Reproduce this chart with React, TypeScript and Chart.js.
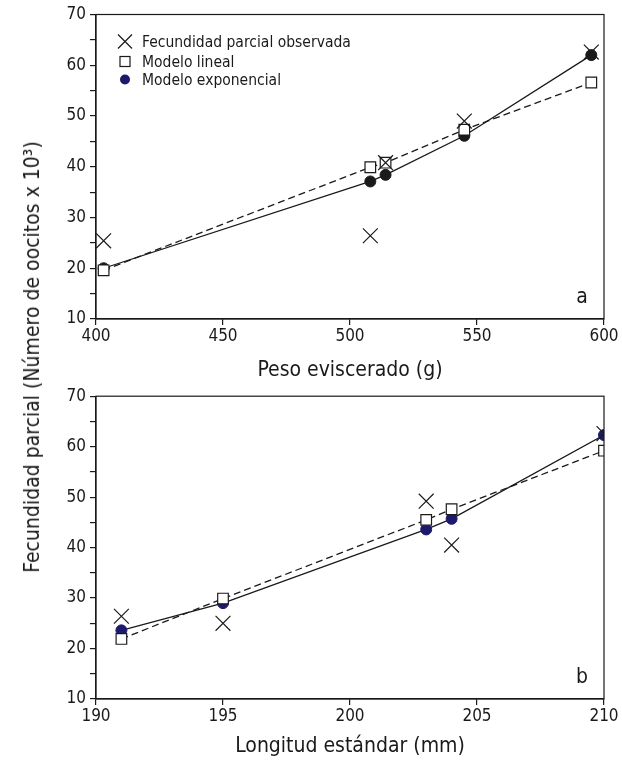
import React, { useEffect, useRef } from 'react';
import { Chart, registerables } from 'chart.js';

Chart.register(...registerables);

const FONT = "'Liberation Sans Narrow', 'Arial Narrow', 'DejaVu Sans Condensed', sans-serif";

const SERIES_LABELS = ['Fecundidad parcial observada', 'Modelo lineal', 'Modelo exponencial'];
const Y_TITLE = 'Fecundidad parcial (Número de oocitos x 10³)';

// Panel a: peso eviscerado
const A_TITLE = 'Peso eviscerado (g)';
const A_LETTER = 'a';
const A_PESO = [403, 508, 514, 545, 595];
const A_OBS = [25.4, 26.4, 40.8, 49.0, 62.6];
const A_LIN = [19.6, 39.9, 40.8, 47.3, 56.6];
const A_EXP = [20.0, 37.1, 38.4, 46.1, 62.0];
const A_XRANGE = [400, 600, 50];

// Panel b: longitud estándar
const B_TITLE = 'Longitud estándar (mm)';
const B_LETTER = 'b';
const B_LONG = [191, 195, 203, 204, 210];
const B_OBS = [26.4, 25.0, 49.2, 40.5, 62.6];
const B_LIN = [21.9, 29.9, 45.5, 47.6, 59.2];
const B_EXP = [23.6, 29.0, 43.6, 45.7, 62.3];
const B_XRANGE = [190, 210, 5];

const Y_RANGE = [10, 70, 5];

const INK = '#1a1a1a';
const NAVY = '#1d1a6c';

function pts(xs: number[], ys: number[]) {
  return xs.map((x, i) => ({ x, y: ys[i] }));
}

const framePlugin = {
  id: 'frame',
  afterDraw(chart: any, _args: any, opts: any) {
    const { ctx, chartArea } = chart;
    ctx.save();
    ctx.strokeStyle = INK;
    ctx.lineWidth = 1.2;
    ctx.strokeRect(chartArea.left, chartArea.top, chartArea.right - chartArea.left, chartArea.bottom - chartArea.top);
    // panel letter
    ctx.fillStyle = INK;
    ctx.font = `21px ${FONT}`;
    ctx.textAlign = 'center';
    ctx.textBaseline = 'middle';
    ctx.fillText(opts.letter, chartArea.right - 22, chartArea.bottom - 21);
    if (opts.legend) {
      const mx = chartArea.left + 29;
      const tx = chartArea.left + 46;
      const rows = [chartArea.top + 27, chartArea.top + 47, chartArea.top + 65];
      ctx.font = `15.5px ${FONT}`;
      ctx.textAlign = 'left';
      ctx.lineWidth = 1.2;
      // X
      ctx.beginPath();
      ctx.moveTo(mx - 7, rows[0] - 7);
      ctx.lineTo(mx + 7, rows[0] + 7);
      ctx.moveTo(mx + 7, rows[0] - 7);
      ctx.lineTo(mx - 7, rows[0] + 7);
      ctx.stroke();
      // square
      ctx.fillStyle = '#fff';
      ctx.fillRect(mx - 5, rows[1] - 5, 10, 10);
      ctx.strokeRect(mx - 5, rows[1] - 5, 10, 10);
      // circle
      ctx.fillStyle = NAVY;
      ctx.beginPath();
      ctx.arc(mx, rows[2], 5, 0, Math.PI * 2);
      ctx.fill();
      ctx.fillStyle = INK;
      SERIES_LABELS.forEach((t, i) => ctx.fillText(t, tx, rows[i] + 1));
    }
    ctx.restore();
  },
};

function makeConfig(
  xs: number[], obs: number[], lin: number[], exp: number[], expColor: string,
  xr: number[], xtitle: string, letter: string, legend: boolean,
  padTop: number, xAxisH: number, titlePad: number
): any {
  const grid = { display: true, drawOnChartArea: false, drawTicks: true, tickLength: 6, color: INK, lineWidth: 1.2 };
  const border = { display: true, color: INK, width: 1.2 };
  return {
    type: 'scatter',
    data: {
      datasets: [
        {
          label: SERIES_LABELS[0], data: pts(xs, obs), showLine: false,
          pointStyle: 'crossRot', pointRadius: 10.5, pointBorderColor: INK, pointBorderWidth: 1.2,
          pointBackgroundColor: INK, order: 0,
        },
        {
          label: SERIES_LABELS[1], data: pts(xs, lin), showLine: true, tension: 0,
          borderColor: INK, borderWidth: 1.3, borderDash: [7, 4],
          pointStyle: 'rect', pointRadius: 7.5, pointBackgroundColor: '#fff', pointBorderColor: INK,
          pointBorderWidth: 1.2, order: 1,
        },
        {
          label: SERIES_LABELS[2], data: pts(xs, exp), showLine: true, tension: 0,
          borderColor: INK, borderWidth: 1.3,
          pointStyle: 'circle', pointRadius: 5.5, pointBackgroundColor: expColor, pointBorderColor: expColor,
          pointBorderWidth: 1, order: 2,
        },
      ],
    },
    options: {
      responsive: false,
      animation: false,
      devicePixelRatio: 1,
      layout: { padding: { top: padTop, right: 18, left: 0, bottom: 0 } },
      plugins: {
        legend: { display: false },
        tooltip: { enabled: false },
        frame: { letter, legend },
      },
      scales: {
        x: {
          type: 'linear', min: xr[0], max: xr[1],
          ticks: { stepSize: xr[2], color: INK, font: { family: FONT, size: 17 }, padding: 1, maxRotation: 0, autoSkip: false },
          grid, border,
          title: { display: true, text: xtitle, color: INK, font: { family: FONT, size: 21 }, padding: { top: 0, bottom: titlePad } },
          afterFit: (s: any) => { s.height = xAxisH; },
        },
        y: {
          type: 'linear', min: Y_RANGE[0], max: Y_RANGE[1],
          ticks: {
            stepSize: Y_RANGE[2], color: INK, font: { family: FONT, size: 17 }, padding: 4, autoSkip: false,
            callback: (v: number) => (v % 10 === 0 ? String(v) : ''),
          },
          grid, border,
          afterFit: (s: any) => { s.width = 96; },
        },
      },
    },
    plugins: [framePlugin],
  };
}

function Panel({ config, top, height }: { config: any; top: number; height: number }) {
  const ref = useRef<HTMLCanvasElement>(null);
  useEffect(() => {
    const chart = new Chart(ref.current as HTMLCanvasElement, config);
    return () => chart.destroy();
  }, []);
  return (
    <canvas
      ref={ref}
      width={622}
      height={height}
      style={{ position: 'absolute', left: 0, top, width: 622, height }}
    />
  );
}

export default function App() {
  const cfgA = makeConfig(A_PESO, A_OBS, A_LIN, A_EXP, INK, A_XRANGE, A_TITLE, A_LETTER, true, 14.5, 63, -1);
  const cfgB = makeConfig(B_LONG, B_OBS, B_LIN, B_EXP, NAVY, B_XRANGE, B_TITLE, B_LETTER, false, 12, 62, 2);
  return (
    <div style={{ position: 'absolute', left: 0, top: 0, width: 622, height: 761, background: '#fff', overflow: 'hidden' }}>
      <Panel config={cfgA} top={0} height={382} />
      <Panel config={cfgB} top={382} height={379} />
      <div
        style={{
          position: 'absolute', left: 32, top: 357,
          transform: 'translate(-50%, -50%) rotate(-90deg)',
          whiteSpace: 'nowrap', font: `21px ${FONT}`, color: INK,
        }}
      >
        {Y_TITLE}
      </div>
    </div>
  );
}
